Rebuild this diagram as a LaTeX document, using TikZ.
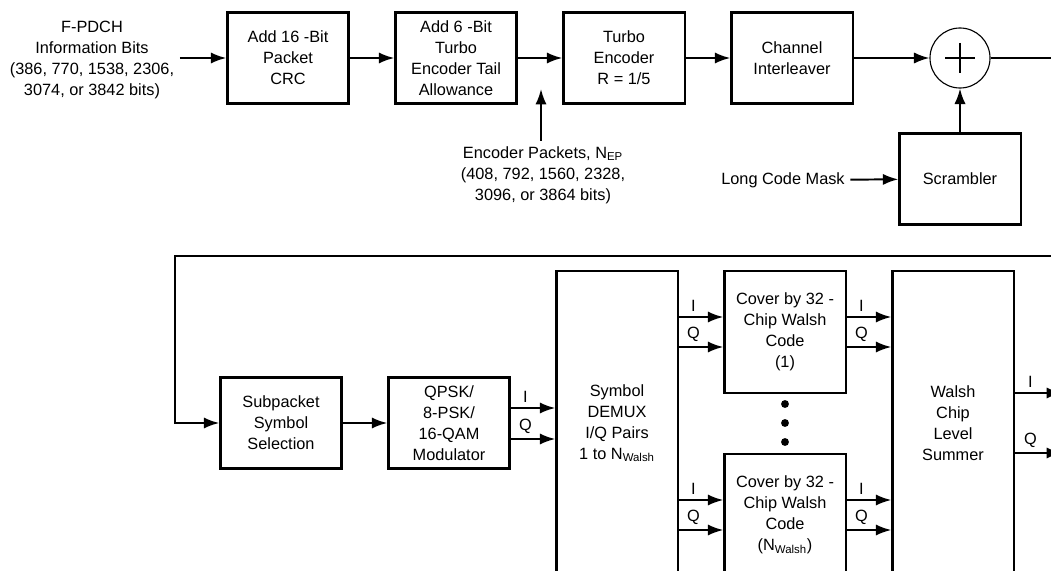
\documentclass[tikz,border=0pt]{standalone}
\usepackage{fontspec}
\setmainfont{Liberation Sans}
\usetikzlibrary{arrows.meta, positioning, calc}

\begin{document}
\begin{tikzpicture}[x=0.025cm, y=-0.025cm, >={Latex[length=11pt, width=8pt]},
        line width=1.4pt, font=\fontsize{11.6}{14.9}\selectfont,
        blk/.style={draw, line width=1.6pt, minimum width=3.03cm, minimum height=2.27cm, align=center, inner sep=2pt},
        tall/.style={blk, minimum height=7.6cm},
        iq/.style={above, pos=0.33, inner sep=3pt}]
    \useasboundingbox (0,0) rectangle (1051,571);
    \clip (0,0) rectangle (1051,571);

    % upper chain
    \node[align=center] (info) at (92,60) {F-PDCH\\Information Bits\\(386, 770, 1538, 2306,\\3074, or 3842 bits)};
    \node[blk] (crc) at (288,58) {Add 16 -Bit\\Packet\\CRC};
    \node[blk] (tail) at (456,58) {Add 6 -Bit\\Turbo\\Encoder Tail\\Allowance};
    \node[blk] (turbo) at (624,58) {Turbo\\Encoder\\R = 1/5};
    \node[blk] (intl) at (792,58) {Channel\\Interleaver};
    \node[circle, draw, line width=0.8pt, minimum size=1.5cm] (sum) at (960,58) {};
    \draw[line width=1.1pt] ($(sum)+(-15,0)$) -- ($(sum)+(15,0)$);
    \draw[line width=1.1pt] ($(sum)+(0,-15)$) -- ($(sum)+(0,15)$);
    \node[blk] (scr) at (960,179) {Scrambler};
    \node (lcm) at (783,180) {Long Code Mask};
    \node[align=center] (nep) at (543,175) {Encoder Packets, N\textsubscript{EP}\\(408, 792, 1560, 2328,\\3096, or 3864 bits)};
    \coordinate (tip) at (541,89);

    \draw[->] (info.east |- crc) -- (crc);
    \draw[->] (crc) -- (tail);
    \draw[->] (tail) -- (turbo);
    \draw[->] (turbo) -- (intl);
    \draw[->] (intl) -- (sum);
    \draw[->] (lcm) -- (scr);
    \draw[->] (scr) -- (sum);
    \draw[->] (nep.north -| tip) -- (tip);

    % wrap to the lower chain
    \coordinate (wa) at (1070,58);
    \coordinate (wb) at (1070,256);
    \coordinate (wc) at (175,256);

    % lower chain
    \node[blk] (sub) at (281,423) {Subpacket\\Symbol\\Selection};
    \node[blk] (mod) at (449,423) {QPSK/\\8-PSK/\\16-QAM\\Modulator};
    \node[tall] (demux) at (617,423) {Symbol\\DEMUX\\I/Q Pairs\\1 to N\textsubscript{Walsh}};
    \node[blk, minimum height=3.05cm] (cov1) at (785,332) {Cover by 32 -\\Chip Walsh\\Code\\(1)};
    \node[blk, minimum height=3.05cm] (cov2) at (785,515) {Cover by 32 -\\Chip Walsh\\Code\\(N\textsubscript{Walsh})};
    \node[tall] (wsum) at (953,423) {Walsh\\Chip\\Level\\Summer};
    \coordinate (outI) at (1062,393);
    \coordinate (outQ) at (1062,453);

    \draw[->] (sum) -- (wa) -- (wb) -- (wc) |- (sub);
    \draw[->] (sub) -- (mod);
    \foreach \dy/\lab in {-15/I, 16/Q}
        \draw[->] ($(mod.east)+(0,\dy)$) -- node[iq]{\lab} ($(mod.east -| demux.west)+(0,\dy)$);
    \foreach \c in {cov1, cov2} {
        \foreach \dy/\lab in {-15/I, 15/Q} {
            \draw[->] ($(demux.east |- \c)+(0,\dy)$) -- node[iq]{\lab} ($(\c.west)+(0,\dy)$);
            \draw[->] ($(\c.east)+(0,\dy)$) -- node[iq]{\lab} ($(wsum.west |- \c)+(0,\dy)$);
        }
    }
    \draw[->] (wsum.east |- outI) -- node[iq]{I} (outI);
    \draw[->] (wsum.east |- outQ) -- node[iq]{Q} (outQ);

    \foreach \y in {404, 423, 442}
        \fill (785,\y) circle (2.8pt);
\end{tikzpicture}
\end{document}
